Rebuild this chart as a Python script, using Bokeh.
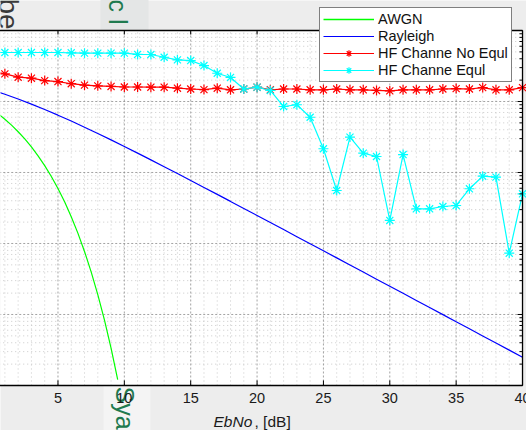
import math
from bokeh.plotting import figure
from bokeh.models import Legend, LegendItem, Label
from bokeh.core.properties import value
from bokeh.embed import file_html
from bokeh.resources import INLINE

# ---------------- data ----------------
awgn_ebno = [0, 0.5, 1, 1.5, 2, 2.5, 3, 3.5, 4, 4.5, 5, 5.5, 6, 6.5, 7, 7.5,
             8, 8.5, 9, 9.5]
awgn_ber = [7.865e-2, 6.71e-2, 5.628e-2, 4.64e-2, 3.751e-2, 2.97e-2, 2.288e-2,
            1.718e-2, 1.250e-2, 8.80e-3, 5.954e-3, 3.86e-3, 2.388e-3, 1.40e-3,
            7.727e-4, 3.99e-4, 1.909e-4, 8.4e-5, 3.37e-5, 1.21e-5]

ebno = list(range(0, 41))
rayleigh_ber = [0.14645, 0.12673, 0.10848, 0.09192, 0.07714, 0.06418, 0.05300,
                0.04347, 0.03546, 0.02878, 0.02327, 0.018748, 0.015064,
                0.012077, 0.009665, 0.007723, 0.006164, 0.004915, 0.003916,
                0.003118, 0.0024814, 0.0019741, 0.0015701, 0.0012483,
                0.00099231, 0.0007887, 0.0006268, 0.0004981, 0.0003958,
                0.0003145, 0.0002498, 0.0001986, 0.0001578, 0.0001253,
                0.0000995, 0.0000790, 0.0000628, 0.0000499, 0.0000396,
                0.0000315, 0.0000250]
hf_noeq_ber = [0.27, 0.245, 0.22, 0.213, 0.197, 0.191, 0.178, 0.17, 0.166,
               0.163, 0.16, 0.16, 0.159, 0.159, 0.154, 0.15, 0.147, 0.154,
               0.146, 0.15, 0.159, 0.146, 0.15, 0.15, 0.146, 0.146, 0.15,
               0.146, 0.146, 0.143, 0.141, 0.146, 0.146, 0.146, 0.15, 0.152,
               0.15, 0.157, 0.146, 0.146, 0.157]
hf_eq_ber = [0.49, 0.49, 0.49, 0.49, 0.49, 0.49, 0.485, 0.48, 0.48, 0.48,
             0.48, 0.46, 0.459, 0.42, 0.386, 0.377, 0.321, 0.25, 0.218, 0.15,
             0.159, 0.143, 0.085, 0.09, 0.060, 0.0216, 0.00558, 0.0315,
             0.0187, 0.0168, 0.00211, 0.0179, 0.00308, 0.00308, 0.00332,
             0.00343, 0.0059, 0.00887, 0.0086, 0.00073, 0.00501]

series_names = ["AWGN", "Rayleigh", "HF Channe No Equl", "HF Channe Equl"]
series_colors = ["#00ff00", "#0000ff", "#ff0000", "#00ffff"]
x_tick_values = [5, 10, 15, 20, 25, 30, 35, 40]
x_tick_labels = ["5", "10", "15", "20", "25", "30", "35", "40"]
x_label_italic = "EbNo"
x_label_rest = ", [dB]"

# limits of the original plot box
X_MAX = 40
Y_MIN, Y_MAX = 1e-5, 1

# ---------------- figure ----------------
FONT = "Liberation Sans"
W, H = 526, 430
BG = "#ededed"
X0, X1 = 0.67, 40.30          # visible x extent of the cropped picture
Y0, Y1 = 2.323e-6, 2.646      # visible y extent of the cropped picture
PX = (X1 - X0) / W            # dB per pixel
DEC = 10 ** (1 / 71.0)        # log-axis factor per pixel (71 px / decade)

p = figure(width=W, height=H, x_range=(X0, X1), y_range=(Y0, Y1),
           y_axis_type="log", output_backend="svg", toolbar_location=None,
           min_border=0, min_border_left=0, min_border_right=0,
           min_border_top=0, min_border_bottom=0)
p.border_fill_color = BG
p.background_fill_color = BG          # page colour around the plot box
p.outline_line_color = None
for ax in p.axis:
    ax.visible = False
for g in p.grid:
    g.visible = False

x_minor = [v for v in range(1, 41) if v not in x_tick_values]
y_major = [1e-5, 1e-4, 1e-3, 1e-2, 1e-1, 1]
y_minor = [m * 10.0 ** d for d in range(-5, 0) for m in range(2, 10)]

# white plot box
p.quad(left=[X0 - 1], right=[X_MAX], bottom=[Y_MIN], top=[Y_MAX],
       fill_color="white", line_color=None, level="image")

# grid lines bounded to the plot box
p.segment(x0=x_minor, x1=x_minor, y0=[Y_MIN] * len(x_minor),
          y1=[Y_MAX] * len(x_minor), line_color="#bdbdbd",
          line_dash="1 3", line_alpha=0.8, level="underlay")
p.segment(x0=[X0 - 1] * len(y_minor), x1=[X_MAX] * len(y_minor),
          y0=y_minor, y1=y_minor, line_color="#bdbdbd",
          line_dash="1 3", line_alpha=0.8, level="underlay")
p.segment(x0=x_tick_values, x1=x_tick_values,
          y0=[Y_MIN] * len(x_tick_values), y1=[Y_MAX] * len(x_tick_values),
          line_color="#8c8c8c", line_dash="2 2", line_alpha=0.8,
          level="underlay")
p.segment(x0=[X0 - 1] * len(y_major), x1=[X_MAX] * len(y_major),
          y0=y_major, y1=y_major, line_color="#8c8c8c",
          line_dash="2 2", line_alpha=0.8, level="underlay")

# ---------------- series ----------------
r_awgn = p.line(awgn_ebno, awgn_ber, line_color=series_colors[0],
                line_width=1.2)
r_ray = p.line(ebno, rayleigh_ber, line_color=series_colors[1],
               line_width=1.2)
r_noeq_l = p.line(ebno, hf_noeq_ber, line_color=series_colors[2],
                  line_width=1.2)
r_noeq_m = p.scatter(ebno, hf_noeq_ber, marker="asterisk", size=10,
                     line_color=series_colors[2], line_width=1.2)
r_eq_l = p.line(ebno, hf_eq_ber, line_color=series_colors[3], line_width=1.2)
r_eq_m = p.scatter(ebno, hf_eq_ber, marker="asterisk", size=10,
                   line_color=series_colors[3], line_width=1.2)
# one-point proxy (draws nothing) used for the AWGN legend swatch
r_awgn_key = p.line(x=awgn_ebno[:1], y=awgn_ber[:1],
                    line_color=series_colors[0], line_width=1.5)

# ---------------- page strips and text fragments behind ----------------
p.quad(left=[X0 + 100 * PX, X0 + 103 * PX],
       right=[X0 + 148 * PX, X0 + 150 * PX],
       bottom=[Y_MAX, Y0], top=[Y1 * 2, Y_MIN],
       fill_color=["#e4e6e6", "#f4f4f4"], line_color=None, level="guide")
frag_kw = dict(x_units="screen", y_units="screen", text_font=FONT,
               angle=-math.pi / 2, text_align="left",
               text_baseline="alphabetic", level="guide")
p.add_layout(Label(x=8, y=H + 2, text="be", text_font_size="28px",
                   text_color="#3a3a3a", **frag_kw))
p.add_layout(Label(x=117, y=H + 1, text="c l", text_font_size="25px",
                   text_color="#1f7a4f", **frag_kw))
p.add_layout(Label(x=124, y=H - 386, text="Sya", text_font_size="25px",
                   text_color="#1f7a4f", **frag_kw))

# ---------------- plot box, ticks and tick labels ----------------
p.segment(x0=[X0 - 1, X0 - 1, X_MAX], y0=[Y_MAX, Y_MIN, Y_MIN],
          x1=[X_MAX, X_MAX, X_MAX], y1=[Y_MAX, Y_MIN, Y_MAX],
          line_color="black", line_width=1.3, level="annotation")
n_x = len(x_tick_values)
p.segment(x0=x_tick_values, x1=x_tick_values,
          y0=[Y_MIN] * n_x, y1=[Y_MIN * DEC ** 5] * n_x,
          line_color="black", line_width=1, level="annotation")
p.segment(x0=x_tick_values, x1=x_tick_values,
          y0=[Y_MAX] * n_x, y1=[Y_MAX / DEC ** 4] * n_x,
          line_color="black", line_width=1, level="annotation")
p.segment(x0=[X_MAX] * len(y_major), x1=[X_MAX - 5 * PX] * len(y_major),
          y0=y_major, y1=y_major,
          line_color="black", line_width=1, level="annotation")
p.segment(x0=[X_MAX] * len(y_minor), x1=[X_MAX - 3 * PX] * len(y_minor),
          y0=y_minor, y1=y_minor,
          line_color="black", line_width=1, level="annotation")
p.text(x=x_tick_values, y=[Y_MIN / DEC ** 8] * n_x, text=x_tick_labels,
       text_align="center", text_baseline="top",
       text_font=value(FONT), text_font_size="14.5px",
       text_color="#1a1a1a", level="annotation")

# x-axis label (italic part + plain part)
p.add_layout(Label(x=213, y=H - 421, x_units="screen", y_units="screen",
                   text=x_label_italic, text_font=FONT,
                   text_font_size="15.5px", text_font_style="italic",
                   text_color="#1a1a1a", text_baseline="alphabetic",
                   level="annotation"))
p.add_layout(Label(x=254, y=H - 421, x_units="screen", y_units="screen",
                   text=x_label_rest, text_font=FONT, text_font_size="15.5px",
                   text_color="#1a1a1a", text_baseline="alphabetic",
                   level="annotation"))

# ---------------- legend ----------------
legend = Legend(items=[
    LegendItem(label=series_names[0], renderers=[r_awgn_key]),
    LegendItem(label=series_names[1], renderers=[r_ray]),
    LegendItem(label=series_names[2], renderers=[r_noeq_l, r_noeq_m]),
    LegendItem(label=series_names[3], renderers=[r_eq_l, r_eq_m]),
], location=(319, H - 82))
legend.level = "overlay"
legend.border_line_color = "black"
legend.border_line_width = 1
legend.background_fill_color = "white"
legend.background_fill_alpha = 1
legend.label_text_font = FONT
legend.label_text_font_size = "14.5px"
legend.label_text_color = "#111111"
legend.padding = 3
legend.margin = 0
legend.spacing = 1
legend.label_height = 16
legend.glyph_height = 16
legend.glyph_width = 51
legend.label_standoff = 4
p.add_layout(legend, "center")

open("out.html", "w").write(file_html(p, INLINE))
